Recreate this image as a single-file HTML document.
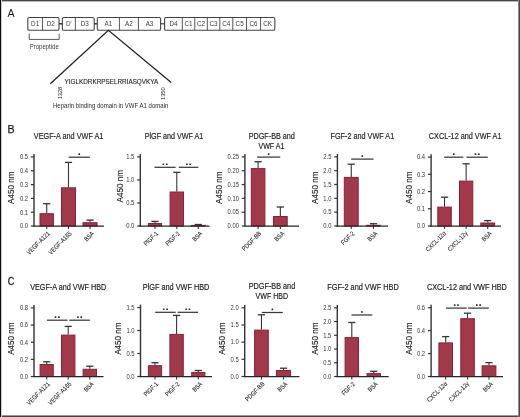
<!DOCTYPE html>
<html><head><meta charset="utf-8"><style>
html,body{margin:0;padding:0;background:#fff;}
body{width:520px;height:417px;overflow:hidden;}
svg{display:block;font-family:"Liberation Sans", sans-serif;will-change:transform;}
</style></head><body>
<svg width="520" height="417" viewBox="0 0 520 417">
<rect width="520" height="417" fill="#fff"/>
<text x="7.6" y="16.8" font-size="10.6" text-anchor="start" fill="#1a1a1a" >A</text>
<rect x="27.8" y="17.5" width="31.20" height="12.80" rx="1.3" fill="#fff" stroke="#444" stroke-width="1.1"/>
<line x1="42.5" y1="17.5" x2="42.5" y2="30.3" stroke="#444" stroke-width="0.9"/>
<text x="35.15" y="25.9" font-size="6.3" text-anchor="middle" fill="#3a3a3a" >D1</text>
<text x="50.75" y="25.9" font-size="6.3" text-anchor="middle" fill="#3a3a3a" >D2</text>
<rect x="62.4" y="17.5" width="31.80" height="12.80" rx="1.3" fill="#fff" stroke="#444" stroke-width="1.1"/>
<line x1="75.4" y1="17.5" x2="75.4" y2="30.3" stroke="#444" stroke-width="0.9"/>
<text x="68.90" y="25.9" font-size="6.3" text-anchor="middle" fill="#3a3a3a" >D'</text>
<text x="84.80" y="25.9" font-size="6.3" text-anchor="middle" fill="#3a3a3a" >D3</text>
<rect x="97.3" y="17.5" width="63.30" height="12.80" rx="1.3" fill="#fff" stroke="#444" stroke-width="1.1"/>
<line x1="119.4" y1="17.5" x2="119.4" y2="30.3" stroke="#444" stroke-width="0.9"/>
<line x1="138.4" y1="17.5" x2="138.4" y2="30.3" stroke="#444" stroke-width="0.9"/>
<text x="108.35" y="25.9" font-size="6.3" text-anchor="middle" fill="#3a3a3a" >A1</text>
<text x="128.90" y="25.9" font-size="6.3" text-anchor="middle" fill="#3a3a3a" >A2</text>
<text x="149.50" y="25.9" font-size="6.3" text-anchor="middle" fill="#3a3a3a" >A3</text>
<rect x="164.6" y="17.5" width="110.20" height="12.80" rx="1.3" fill="#fff" stroke="#444" stroke-width="1.1"/>
<line x1="182.3" y1="17.5" x2="182.3" y2="30.3" stroke="#444" stroke-width="0.9"/>
<line x1="194.8" y1="17.5" x2="194.8" y2="30.3" stroke="#444" stroke-width="0.9"/>
<line x1="207.3" y1="17.5" x2="207.3" y2="30.3" stroke="#444" stroke-width="0.9"/>
<line x1="219.8" y1="17.5" x2="219.8" y2="30.3" stroke="#444" stroke-width="0.9"/>
<line x1="232.8" y1="17.5" x2="232.8" y2="30.3" stroke="#444" stroke-width="0.9"/>
<line x1="246.5" y1="17.5" x2="246.5" y2="30.3" stroke="#444" stroke-width="0.9"/>
<line x1="260.6" y1="17.5" x2="260.6" y2="30.3" stroke="#444" stroke-width="0.9"/>
<text x="173.45" y="25.9" font-size="6.3" text-anchor="middle" fill="#3a3a3a" >D4</text>
<text x="188.55" y="25.9" font-size="6.3" text-anchor="middle" fill="#3a3a3a" >C1</text>
<text x="201.05" y="25.9" font-size="6.3" text-anchor="middle" fill="#3a3a3a" >C2</text>
<text x="213.55" y="25.9" font-size="6.3" text-anchor="middle" fill="#3a3a3a" >C3</text>
<text x="226.30" y="25.9" font-size="6.3" text-anchor="middle" fill="#3a3a3a" >C4</text>
<text x="239.65" y="25.9" font-size="6.3" text-anchor="middle" fill="#3a3a3a" >C5</text>
<text x="253.55" y="25.9" font-size="6.3" text-anchor="middle" fill="#3a3a3a" >C6</text>
<text x="267.70" y="25.9" font-size="6.3" text-anchor="middle" fill="#3a3a3a" >CK</text>
<line x1="59.0" y1="23.8" x2="62.4" y2="23.8" stroke="#333" stroke-width="1.5"/>
<line x1="94.2" y1="23.8" x2="97.3" y2="23.8" stroke="#333" stroke-width="1.4"/>
<line x1="160.6" y1="23.8" x2="164.6" y2="23.8" stroke="#333" stroke-width="1.1"/>
<path d="M29.2 33.5 V39.4 H59.2 V33.5" fill="none" stroke="#444" stroke-width="0.9"/>
<text x="44.3" y="49.1" font-size="6.4" text-anchor="middle" fill="#3a3a3a" textLength="29" lengthAdjust="spacingAndGlyphs" >Propeptide</text>
<path d="M50.3 83.7 L108.4 30.3 L171.2 82.5" fill="none" stroke="#1e1e1e" stroke-width="1.2"/>
<text x="64.5" y="83.8" font-size="7" text-anchor="start" fill="#1e1e1e" textLength="93.8" lengthAdjust="spacingAndGlyphs" stroke="#1e1e1e" stroke-width="0.12">YIGLKDRKRPSELRRIASQVKYA</text>
<text x="0" y="0" font-size="6" fill="#151515" transform="translate(61.7 99.3) rotate(-90)" textLength="12.5" lengthAdjust="spacingAndGlyphs">1328</text>
<text x="0" y="0" font-size="6" fill="#151515" transform="translate(164.7 99.9) rotate(-90)" textLength="12.5" lengthAdjust="spacingAndGlyphs">1350</text>
<text x="53" y="107.6" font-size="6.4" text-anchor="start" fill="#2a2a2a" textLength="115.4" lengthAdjust="spacingAndGlyphs" >Heparin binding domain in VWF A1 domain</text>
<text x="7.6" y="133.2" font-size="10.6" text-anchor="start" fill="#1a1a1a" stroke="#1a1a1a" stroke-width="0.25">B</text>
<text x="0" y="0" font-size="10.6" fill="#1a1a1a" stroke="#1a1a1a" stroke-width="0.25" transform="translate(7.7 284.7) scale(0.86 1)">C</text>
<line x1="34.0" y1="154.1" x2="34.0" y2="226.6" stroke="#383838" stroke-width="1.45"/>
<line x1="30.8" y1="226.0" x2="34.0" y2="226.0" stroke="#333" stroke-width="1.2"/>
<text x="28.00" y="228.30" font-size="6.4" text-anchor="end" fill="#333" textLength="8.10" lengthAdjust="spacingAndGlyphs" >0.0</text>
<line x1="30.8" y1="212.2" x2="34.0" y2="212.2" stroke="#333" stroke-width="1.2"/>
<text x="28.00" y="214.50" font-size="6.4" text-anchor="end" fill="#333" textLength="8.10" lengthAdjust="spacingAndGlyphs" >0.1</text>
<line x1="30.8" y1="198.4" x2="34.0" y2="198.4" stroke="#333" stroke-width="1.2"/>
<text x="28.00" y="200.70" font-size="6.4" text-anchor="end" fill="#333" textLength="8.10" lengthAdjust="spacingAndGlyphs" >0.2</text>
<line x1="30.8" y1="184.6" x2="34.0" y2="184.6" stroke="#333" stroke-width="1.2"/>
<text x="28.00" y="186.90" font-size="6.4" text-anchor="end" fill="#333" textLength="8.10" lengthAdjust="spacingAndGlyphs" >0.3</text>
<line x1="30.8" y1="170.8" x2="34.0" y2="170.8" stroke="#333" stroke-width="1.2"/>
<text x="28.00" y="173.10" font-size="6.4" text-anchor="end" fill="#333" textLength="8.10" lengthAdjust="spacingAndGlyphs" >0.4</text>
<line x1="30.8" y1="157.0" x2="34.0" y2="157.0" stroke="#333" stroke-width="1.2"/>
<text x="28.00" y="159.30" font-size="6.4" text-anchor="end" fill="#333" textLength="8.10" lengthAdjust="spacingAndGlyphs" >0.5</text>
<text x="0" y="0" font-size="8.4" fill="#222" stroke="#222" stroke-width="0.12" text-anchor="middle" transform="translate(14.3 187.80) rotate(-90)" textLength="32.3" lengthAdjust="spacingAndGlyphs">A450 nm</text>
<rect x="40.00" y="213.70" width="13.40" height="12.30" fill="#a1394a" stroke="#8c2136" stroke-width="1"/>
<line x1="46.7" y1="203.7" x2="46.7" y2="213.2" stroke="#353535" stroke-width="1.1"/>
<line x1="43.1" y1="203.7" x2="50.300000000000004" y2="203.7" stroke="#333" stroke-width="1.3"/>
<line x1="46.7" y1="226.0" x2="46.7" y2="229.0" stroke="#333" stroke-width="1.1"/>
<text x="0" y="0" font-size="6.5" fill="#1a1a1a" stroke="#1a1a1a" stroke-width="0.08" text-anchor="end" transform="translate(50.30 234.00) rotate(-45) scale(0.85 1)">VEGF-A121</text>
<rect x="61.50" y="187.80" width="14.00" height="38.20" fill="#a1394a" stroke="#8c2136" stroke-width="1"/>
<line x1="68.5" y1="162.4" x2="68.5" y2="187.3" stroke="#353535" stroke-width="1.1"/>
<line x1="64.9" y1="162.4" x2="72.1" y2="162.4" stroke="#333" stroke-width="1.3"/>
<line x1="68.5" y1="226.0" x2="68.5" y2="229.0" stroke="#333" stroke-width="1.1"/>
<text x="0" y="0" font-size="6.5" fill="#1a1a1a" stroke="#1a1a1a" stroke-width="0.08" text-anchor="end" transform="translate(72.10 234.00) rotate(-45) scale(0.85 1)">VEGF-A165</text>
<rect x="83.00" y="222.70" width="14.10" height="3.30" fill="#a1394a" stroke="#8c2136" stroke-width="1"/>
<line x1="90.05" y1="220.1" x2="90.05" y2="222.2" stroke="#353535" stroke-width="1.1"/>
<line x1="86.45" y1="220.1" x2="93.64999999999999" y2="220.1" stroke="#333" stroke-width="1.3"/>
<line x1="90.05" y1="226.0" x2="90.05" y2="229.0" stroke="#333" stroke-width="1.1"/>
<text x="0" y="0" font-size="6.5" fill="#1a1a1a" stroke="#1a1a1a" stroke-width="0.08" text-anchor="end" transform="translate(94.45 234.00) rotate(-45) scale(0.85 1)">BSA</text>
<line x1="33.3" y1="226.0" x2="104" y2="226.0" stroke="#262626" stroke-width="1.25"/>
<line x1="68.6" y1="157.2" x2="89.9" y2="157.2" stroke="#383838" stroke-width="1.25"/>
<rect x="78.40" y="153.30" width="1.7" height="1.7" rx="0.35" fill="#2a2a2a"/>
<text x="33.8" y="139.3" font-size="8.2" text-anchor="start" fill="#1e1e1e" textLength="69.6" lengthAdjust="spacingAndGlyphs" stroke="#1e1e1e" stroke-width="0.18">VEGF-A and VWF A1</text>
<line x1="140.3" y1="154.0" x2="140.3" y2="226.6" stroke="#383838" stroke-width="1.45"/>
<line x1="137.10000000000002" y1="226.0" x2="140.3" y2="226.0" stroke="#333" stroke-width="1.2"/>
<text x="134.30" y="228.30" font-size="6.4" text-anchor="end" fill="#333" textLength="8.10" lengthAdjust="spacingAndGlyphs" >0.0</text>
<line x1="137.10000000000002" y1="202.96666666666667" x2="140.3" y2="202.96666666666667" stroke="#333" stroke-width="1.2"/>
<text x="134.30" y="205.27" font-size="6.4" text-anchor="end" fill="#333" textLength="8.10" lengthAdjust="spacingAndGlyphs" >0.5</text>
<line x1="137.10000000000002" y1="179.93333333333334" x2="140.3" y2="179.93333333333334" stroke="#333" stroke-width="1.2"/>
<text x="134.30" y="182.23" font-size="6.4" text-anchor="end" fill="#333" textLength="8.10" lengthAdjust="spacingAndGlyphs" >1.0</text>
<line x1="137.10000000000002" y1="156.9" x2="140.3" y2="156.9" stroke="#333" stroke-width="1.2"/>
<text x="134.30" y="159.20" font-size="6.4" text-anchor="end" fill="#333" textLength="8.10" lengthAdjust="spacingAndGlyphs" >1.5</text>
<text x="0" y="0" font-size="8.4" fill="#222" stroke="#222" stroke-width="0.12" text-anchor="middle" transform="translate(122.9 186.30) rotate(-90)" textLength="32.3" lengthAdjust="spacingAndGlyphs">A450 nm</text>
<rect x="148.40" y="223.50" width="13.20" height="2.50" fill="#a1394a" stroke="#8c2136" stroke-width="1"/>
<line x1="155.0" y1="221.4" x2="155.0" y2="223" stroke="#353535" stroke-width="1.1"/>
<line x1="151.4" y1="221.4" x2="158.6" y2="221.4" stroke="#333" stroke-width="1.3"/>
<line x1="155.0" y1="226.0" x2="155.0" y2="229.0" stroke="#333" stroke-width="1.1"/>
<text x="0" y="0" font-size="6.5" fill="#1a1a1a" stroke="#1a1a1a" stroke-width="0.08" text-anchor="end" transform="translate(158.60 234.00) rotate(-45) scale(0.85 1)">PlGF-1</text>
<rect x="170.10" y="192.00" width="13.40" height="34.00" fill="#a1394a" stroke="#8c2136" stroke-width="1"/>
<line x1="176.8" y1="172.3" x2="176.8" y2="191.5" stroke="#353535" stroke-width="1.1"/>
<line x1="173.20000000000002" y1="172.3" x2="180.4" y2="172.3" stroke="#333" stroke-width="1.3"/>
<line x1="176.8" y1="226.0" x2="176.8" y2="229.0" stroke="#333" stroke-width="1.1"/>
<text x="0" y="0" font-size="6.5" fill="#1a1a1a" stroke="#1a1a1a" stroke-width="0.08" text-anchor="end" transform="translate(180.40 234.00) rotate(-45) scale(0.85 1)">PlGF-2</text>
<rect x="191.40" y="225.40" width="13.80" height="0.60" fill="#a1394a" stroke="#8c2136" stroke-width="1"/>
<line x1="198.3" y1="224.5" x2="198.3" y2="224.9" stroke="#353535" stroke-width="1.1"/>
<line x1="194.70000000000002" y1="224.5" x2="201.9" y2="224.5" stroke="#333" stroke-width="1.3"/>
<line x1="198.3" y1="226.0" x2="198.3" y2="229.0" stroke="#333" stroke-width="1.1"/>
<text x="0" y="0" font-size="6.5" fill="#1a1a1a" stroke="#1a1a1a" stroke-width="0.08" text-anchor="end" transform="translate(202.70 234.00) rotate(-45) scale(0.85 1)">BSA</text>
<line x1="139.60000000000002" y1="226.0" x2="209.6" y2="226.0" stroke="#262626" stroke-width="1.25"/>
<line x1="154.5" y1="167.3" x2="175.6" y2="167.3" stroke="#383838" stroke-width="1.25"/>
<rect x="162.55" y="163.40" width="1.7" height="1.7" rx="0.35" fill="#2a2a2a"/>
<rect x="165.85" y="163.40" width="1.7" height="1.7" rx="0.35" fill="#2a2a2a"/>
<line x1="178.8" y1="167.3" x2="198.3" y2="167.3" stroke="#383838" stroke-width="1.25"/>
<rect x="186.05" y="163.40" width="1.7" height="1.7" rx="0.35" fill="#2a2a2a"/>
<rect x="189.35" y="163.40" width="1.7" height="1.7" rx="0.35" fill="#2a2a2a"/>
<text x="144.7" y="139.1" font-size="8.2" text-anchor="start" fill="#1e1e1e" textLength="58.5" lengthAdjust="spacingAndGlyphs" stroke="#1e1e1e" stroke-width="0.18">PlGF and VWF A1</text>
<line x1="244.9" y1="154.0" x2="244.9" y2="226.6" stroke="#383838" stroke-width="1.45"/>
<line x1="241.70000000000002" y1="226.0" x2="244.9" y2="226.0" stroke="#333" stroke-width="1.2"/>
<text x="238.90" y="228.30" font-size="6.4" text-anchor="end" fill="#333" textLength="11.33" lengthAdjust="spacingAndGlyphs" >0.00</text>
<line x1="241.70000000000002" y1="212.18" x2="244.9" y2="212.18" stroke="#333" stroke-width="1.2"/>
<text x="238.90" y="214.48" font-size="6.4" text-anchor="end" fill="#333" textLength="11.33" lengthAdjust="spacingAndGlyphs" >0.05</text>
<line x1="241.70000000000002" y1="198.36" x2="244.9" y2="198.36" stroke="#333" stroke-width="1.2"/>
<text x="238.90" y="200.66" font-size="6.4" text-anchor="end" fill="#333" textLength="11.33" lengthAdjust="spacingAndGlyphs" >0.10</text>
<line x1="241.70000000000002" y1="184.54000000000002" x2="244.9" y2="184.54000000000002" stroke="#333" stroke-width="1.2"/>
<text x="238.90" y="186.84" font-size="6.4" text-anchor="end" fill="#333" textLength="11.33" lengthAdjust="spacingAndGlyphs" >0.15</text>
<line x1="241.70000000000002" y1="170.72" x2="244.9" y2="170.72" stroke="#333" stroke-width="1.2"/>
<text x="238.90" y="173.02" font-size="6.4" text-anchor="end" fill="#333" textLength="11.33" lengthAdjust="spacingAndGlyphs" >0.20</text>
<line x1="241.70000000000002" y1="156.9" x2="244.9" y2="156.9" stroke="#333" stroke-width="1.2"/>
<text x="238.90" y="159.20" font-size="6.4" text-anchor="end" fill="#333" textLength="11.33" lengthAdjust="spacingAndGlyphs" >0.25</text>
<text x="0" y="0" font-size="8.4" fill="#222" stroke="#222" stroke-width="0.12" text-anchor="middle" transform="translate(221.5 187.80) rotate(-90)" textLength="32.3" lengthAdjust="spacingAndGlyphs">A450 nm</text>
<rect x="251.30" y="168.60" width="13.60" height="57.40" fill="#a1394a" stroke="#8c2136" stroke-width="1"/>
<line x1="258.1" y1="161.7" x2="258.1" y2="168.1" stroke="#353535" stroke-width="1.1"/>
<line x1="254.50000000000003" y1="161.7" x2="261.70000000000005" y2="161.7" stroke="#333" stroke-width="1.3"/>
<line x1="258.1" y1="226.0" x2="258.1" y2="229.0" stroke="#333" stroke-width="1.1"/>
<text x="0" y="0" font-size="6.5" fill="#1a1a1a" stroke="#1a1a1a" stroke-width="0.08" text-anchor="end" transform="translate(261.70 234.00) rotate(-45) scale(0.85 1)">PDGF-BB</text>
<rect x="273.50" y="216.50" width="13.70" height="9.50" fill="#a1394a" stroke="#8c2136" stroke-width="1"/>
<line x1="280.35" y1="207" x2="280.35" y2="216" stroke="#353535" stroke-width="1.1"/>
<line x1="276.75" y1="207" x2="283.95000000000005" y2="207" stroke="#333" stroke-width="1.3"/>
<line x1="280.35" y1="226.0" x2="280.35" y2="229.0" stroke="#333" stroke-width="1.1"/>
<text x="0" y="0" font-size="6.5" fill="#1a1a1a" stroke="#1a1a1a" stroke-width="0.08" text-anchor="end" transform="translate(284.75 234.00) rotate(-45) scale(0.85 1)">BSA</text>
<line x1="244.20000000000002" y1="226.0" x2="299" y2="226.0" stroke="#262626" stroke-width="1.25"/>
<line x1="257.1" y1="157.1" x2="280.2" y2="157.1" stroke="#383838" stroke-width="1.25"/>
<rect x="267.80" y="153.20" width="1.7" height="1.7" rx="0.35" fill="#2a2a2a"/>
<text x="248.7" y="139" font-size="8.2" text-anchor="start" fill="#1e1e1e" textLength="46.1" lengthAdjust="spacingAndGlyphs" stroke="#1e1e1e" stroke-width="0.18">PDGF-BB and</text>
<text x="258.5" y="149" font-size="8.2" text-anchor="start" fill="#1e1e1e" textLength="25.9" lengthAdjust="spacingAndGlyphs" stroke="#1e1e1e" stroke-width="0.18">VWF A1</text>
<line x1="337.4" y1="153.9" x2="337.4" y2="226.6" stroke="#383838" stroke-width="1.45"/>
<line x1="334.2" y1="226.0" x2="337.4" y2="226.0" stroke="#333" stroke-width="1.2"/>
<text x="331.40" y="228.30" font-size="6.4" text-anchor="end" fill="#333" textLength="8.10" lengthAdjust="spacingAndGlyphs" >0.0</text>
<line x1="334.2" y1="212.16" x2="337.4" y2="212.16" stroke="#333" stroke-width="1.2"/>
<text x="331.40" y="214.46" font-size="6.4" text-anchor="end" fill="#333" textLength="8.10" lengthAdjust="spacingAndGlyphs" >0.5</text>
<line x1="334.2" y1="198.32" x2="337.4" y2="198.32" stroke="#333" stroke-width="1.2"/>
<text x="331.40" y="200.62" font-size="6.4" text-anchor="end" fill="#333" textLength="8.10" lengthAdjust="spacingAndGlyphs" >1.0</text>
<line x1="334.2" y1="184.48000000000002" x2="337.4" y2="184.48000000000002" stroke="#333" stroke-width="1.2"/>
<text x="331.40" y="186.78" font-size="6.4" text-anchor="end" fill="#333" textLength="8.10" lengthAdjust="spacingAndGlyphs" >1.5</text>
<line x1="334.2" y1="170.64000000000001" x2="337.4" y2="170.64000000000001" stroke="#333" stroke-width="1.2"/>
<text x="331.40" y="172.94" font-size="6.4" text-anchor="end" fill="#333" textLength="8.10" lengthAdjust="spacingAndGlyphs" >2.0</text>
<line x1="334.2" y1="156.8" x2="337.4" y2="156.8" stroke="#333" stroke-width="1.2"/>
<text x="331.40" y="159.10" font-size="6.4" text-anchor="end" fill="#333" textLength="8.10" lengthAdjust="spacingAndGlyphs" >2.5</text>
<text x="0" y="0" font-size="8.4" fill="#222" stroke="#222" stroke-width="0.12" text-anchor="middle" transform="translate(318.2 187.80) rotate(-90)" textLength="32.3" lengthAdjust="spacingAndGlyphs">A450 nm</text>
<rect x="344.30" y="177.40" width="13.90" height="48.60" fill="#a1394a" stroke="#8c2136" stroke-width="1"/>
<line x1="351.25" y1="164.2" x2="351.25" y2="176.9" stroke="#353535" stroke-width="1.1"/>
<line x1="347.65" y1="164.2" x2="354.85" y2="164.2" stroke="#333" stroke-width="1.3"/>
<line x1="351.25" y1="226.0" x2="351.25" y2="229.0" stroke="#333" stroke-width="1.1"/>
<text x="0" y="0" font-size="6.5" fill="#1a1a1a" stroke="#1a1a1a" stroke-width="0.08" text-anchor="end" transform="translate(354.85 234.00) rotate(-45) scale(0.85 1)">FGF-2</text>
<rect x="366.70" y="225.30" width="13.60" height="0.70" fill="#a1394a" stroke="#8c2136" stroke-width="1"/>
<line x1="373.5" y1="223.7" x2="373.5" y2="224.8" stroke="#353535" stroke-width="1.1"/>
<line x1="369.9" y1="223.7" x2="377.1" y2="223.7" stroke="#333" stroke-width="1.3"/>
<line x1="373.5" y1="226.0" x2="373.5" y2="229.0" stroke="#333" stroke-width="1.1"/>
<text x="0" y="0" font-size="6.5" fill="#1a1a1a" stroke="#1a1a1a" stroke-width="0.08" text-anchor="end" transform="translate(377.90 234.00) rotate(-45) scale(0.85 1)">BSA</text>
<line x1="336.7" y1="226.0" x2="388" y2="226.0" stroke="#262626" stroke-width="1.25"/>
<line x1="351.1" y1="159.1" x2="373.5" y2="159.1" stroke="#383838" stroke-width="1.25"/>
<rect x="361.45" y="155.20" width="1.7" height="1.7" rx="0.35" fill="#2a2a2a"/>
<text x="330.5" y="139.1" font-size="8.2" text-anchor="start" fill="#1e1e1e" textLength="63.7" lengthAdjust="spacingAndGlyphs" stroke="#1e1e1e" stroke-width="0.18">FGF-2 and VWF A1</text>
<line x1="431.1" y1="154.2" x2="431.1" y2="226.6" stroke="#383838" stroke-width="1.45"/>
<line x1="427.90000000000003" y1="226.0" x2="431.1" y2="226.0" stroke="#333" stroke-width="1.2"/>
<text x="425.10" y="228.30" font-size="6.4" text-anchor="end" fill="#333" textLength="8.10" lengthAdjust="spacingAndGlyphs" >0.0</text>
<line x1="427.90000000000003" y1="208.775" x2="431.1" y2="208.775" stroke="#333" stroke-width="1.2"/>
<text x="425.10" y="211.08" font-size="6.4" text-anchor="end" fill="#333" textLength="8.10" lengthAdjust="spacingAndGlyphs" >0.1</text>
<line x1="427.90000000000003" y1="191.55" x2="431.1" y2="191.55" stroke="#333" stroke-width="1.2"/>
<text x="425.10" y="193.85" font-size="6.4" text-anchor="end" fill="#333" textLength="8.10" lengthAdjust="spacingAndGlyphs" >0.2</text>
<line x1="427.90000000000003" y1="174.325" x2="431.1" y2="174.325" stroke="#333" stroke-width="1.2"/>
<text x="425.10" y="176.62" font-size="6.4" text-anchor="end" fill="#333" textLength="8.10" lengthAdjust="spacingAndGlyphs" >0.3</text>
<line x1="427.90000000000003" y1="157.1" x2="431.1" y2="157.1" stroke="#333" stroke-width="1.2"/>
<text x="425.10" y="159.40" font-size="6.4" text-anchor="end" fill="#333" textLength="8.10" lengthAdjust="spacingAndGlyphs" >0.4</text>
<text x="0" y="0" font-size="8.4" fill="#222" stroke="#222" stroke-width="0.12" text-anchor="middle" transform="translate(411.6 187.80) rotate(-90)" textLength="32.3" lengthAdjust="spacingAndGlyphs">A450 nm</text>
<rect x="437.80" y="207.10" width="13.50" height="18.90" fill="#a1394a" stroke="#8c2136" stroke-width="1"/>
<line x1="444.55" y1="197.2" x2="444.55" y2="206.6" stroke="#353535" stroke-width="1.1"/>
<line x1="440.95" y1="197.2" x2="448.15000000000003" y2="197.2" stroke="#333" stroke-width="1.3"/>
<line x1="444.55" y1="226.0" x2="444.55" y2="229.0" stroke="#333" stroke-width="1.1"/>
<text x="0" y="0" font-size="6.5" fill="#1a1a1a" stroke="#1a1a1a" stroke-width="0.08" text-anchor="end" transform="translate(446.55 233.70) rotate(-45) scale(0.85 1)">CXCL-12α</text>
<rect x="459.50" y="181.10" width="13.30" height="44.90" fill="#a1394a" stroke="#8c2136" stroke-width="1"/>
<line x1="466.15" y1="163.8" x2="466.15" y2="180.6" stroke="#353535" stroke-width="1.1"/>
<line x1="462.54999999999995" y1="163.8" x2="469.75" y2="163.8" stroke="#333" stroke-width="1.3"/>
<line x1="466.15" y1="226.0" x2="466.15" y2="229.0" stroke="#333" stroke-width="1.1"/>
<text x="0" y="0" font-size="6.5" fill="#1a1a1a" stroke="#1a1a1a" stroke-width="0.08" text-anchor="end" transform="translate(468.15 233.70) rotate(-45) scale(0.85 1)">CXCL-12γ</text>
<rect x="480.80" y="223.00" width="13.80" height="3.00" fill="#a1394a" stroke="#8c2136" stroke-width="1"/>
<line x1="487.70000000000005" y1="220.6" x2="487.70000000000005" y2="222.5" stroke="#353535" stroke-width="1.1"/>
<line x1="484.1" y1="220.6" x2="491.30000000000007" y2="220.6" stroke="#333" stroke-width="1.3"/>
<line x1="487.70000000000005" y1="226.0" x2="487.70000000000005" y2="229.0" stroke="#333" stroke-width="1.1"/>
<text x="0" y="0" font-size="6.5" fill="#1a1a1a" stroke="#1a1a1a" stroke-width="0.08" text-anchor="end" transform="translate(492.10 234.00) rotate(-45) scale(0.85 1)">BSA</text>
<line x1="430.40000000000003" y1="226.0" x2="501" y2="226.0" stroke="#262626" stroke-width="1.25"/>
<line x1="444.2" y1="157.2" x2="463.3" y2="157.2" stroke="#383838" stroke-width="1.25"/>
<rect x="452.90" y="153.30" width="1.7" height="1.7" rx="0.35" fill="#2a2a2a"/>
<line x1="466.4" y1="157.2" x2="487.8" y2="157.2" stroke="#383838" stroke-width="1.25"/>
<rect x="474.60" y="153.30" width="1.7" height="1.7" rx="0.35" fill="#2a2a2a"/>
<rect x="477.90" y="153.30" width="1.7" height="1.7" rx="0.35" fill="#2a2a2a"/>
<text x="428.8" y="138.8" font-size="8.2" text-anchor="start" fill="#1e1e1e" textLength="72.7" lengthAdjust="spacingAndGlyphs" stroke="#1e1e1e" stroke-width="0.18">CXCL-12 and VWF A1</text>
<line x1="34.0" y1="305.0" x2="34.0" y2="377.1" stroke="#383838" stroke-width="1.45"/>
<line x1="30.8" y1="376.5" x2="34.0" y2="376.5" stroke="#333" stroke-width="1.2"/>
<text x="28.00" y="378.80" font-size="6.4" text-anchor="end" fill="#333" textLength="8.10" lengthAdjust="spacingAndGlyphs" >0.0</text>
<line x1="30.8" y1="359.35" x2="34.0" y2="359.35" stroke="#333" stroke-width="1.2"/>
<text x="28.00" y="361.65" font-size="6.4" text-anchor="end" fill="#333" textLength="8.10" lengthAdjust="spacingAndGlyphs" >0.2</text>
<line x1="30.8" y1="342.2" x2="34.0" y2="342.2" stroke="#333" stroke-width="1.2"/>
<text x="28.00" y="344.50" font-size="6.4" text-anchor="end" fill="#333" textLength="8.10" lengthAdjust="spacingAndGlyphs" >0.4</text>
<line x1="30.8" y1="325.05" x2="34.0" y2="325.05" stroke="#333" stroke-width="1.2"/>
<text x="28.00" y="327.35" font-size="6.4" text-anchor="end" fill="#333" textLength="8.10" lengthAdjust="spacingAndGlyphs" >0.6</text>
<line x1="30.8" y1="307.9" x2="34.0" y2="307.9" stroke="#333" stroke-width="1.2"/>
<text x="28.00" y="310.20" font-size="6.4" text-anchor="end" fill="#333" textLength="8.10" lengthAdjust="spacingAndGlyphs" >0.8</text>
<text x="0" y="0" font-size="8.4" fill="#222" stroke="#222" stroke-width="0.12" text-anchor="middle" transform="translate(14.3 338.70) rotate(-90)" textLength="32.3" lengthAdjust="spacingAndGlyphs">A450 nm</text>
<rect x="40.10" y="364.50" width="13.20" height="12.00" fill="#a1394a" stroke="#8c2136" stroke-width="1"/>
<line x1="46.7" y1="361.8" x2="46.7" y2="364" stroke="#353535" stroke-width="1.1"/>
<line x1="43.1" y1="361.8" x2="50.300000000000004" y2="361.8" stroke="#333" stroke-width="1.3"/>
<line x1="46.7" y1="376.5" x2="46.7" y2="379.5" stroke="#333" stroke-width="1.1"/>
<text x="0" y="0" font-size="6.5" fill="#1a1a1a" stroke="#1a1a1a" stroke-width="0.08" text-anchor="end" transform="translate(50.30 384.50) rotate(-45) scale(0.85 1)">VEGF-A121</text>
<rect x="61.50" y="335.10" width="13.40" height="41.40" fill="#a1394a" stroke="#8c2136" stroke-width="1"/>
<line x1="68.2" y1="326.4" x2="68.2" y2="334.6" stroke="#353535" stroke-width="1.1"/>
<line x1="64.60000000000001" y1="326.4" x2="71.8" y2="326.4" stroke="#333" stroke-width="1.3"/>
<line x1="68.2" y1="376.5" x2="68.2" y2="379.5" stroke="#333" stroke-width="1.1"/>
<text x="0" y="0" font-size="6.5" fill="#1a1a1a" stroke="#1a1a1a" stroke-width="0.08" text-anchor="end" transform="translate(71.80 384.50) rotate(-45) scale(0.85 1)">VEGF-A165</text>
<rect x="83.10" y="369.30" width="13.40" height="7.20" fill="#a1394a" stroke="#8c2136" stroke-width="1"/>
<line x1="89.8" y1="366.2" x2="89.8" y2="368.8" stroke="#353535" stroke-width="1.1"/>
<line x1="86.2" y1="366.2" x2="93.39999999999999" y2="366.2" stroke="#333" stroke-width="1.3"/>
<line x1="89.8" y1="376.5" x2="89.8" y2="379.5" stroke="#333" stroke-width="1.1"/>
<text x="0" y="0" font-size="6.5" fill="#1a1a1a" stroke="#1a1a1a" stroke-width="0.08" text-anchor="end" transform="translate(94.20 384.50) rotate(-45) scale(0.85 1)">BSA</text>
<line x1="33.3" y1="376.5" x2="103.5" y2="376.5" stroke="#262626" stroke-width="1.25"/>
<line x1="46.9" y1="320.2" x2="67.5" y2="320.2" stroke="#383838" stroke-width="1.25"/>
<rect x="54.70" y="316.30" width="1.7" height="1.7" rx="0.35" fill="#2a2a2a"/>
<rect x="58.00" y="316.30" width="1.7" height="1.7" rx="0.35" fill="#2a2a2a"/>
<line x1="69.2" y1="320.2" x2="89.9" y2="320.2" stroke="#383838" stroke-width="1.25"/>
<rect x="77.05" y="316.30" width="1.7" height="1.7" rx="0.35" fill="#2a2a2a"/>
<rect x="80.35" y="316.30" width="1.7" height="1.7" rx="0.35" fill="#2a2a2a"/>
<text x="30.2" y="289.5" font-size="8.2" text-anchor="start" fill="#1e1e1e" textLength="76.1" lengthAdjust="spacingAndGlyphs" stroke="#1e1e1e" stroke-width="0.18">VEGF-A and VWF HBD</text>
<line x1="140.5" y1="304.6" x2="140.5" y2="377.1" stroke="#383838" stroke-width="1.45"/>
<line x1="137.3" y1="376.5" x2="140.5" y2="376.5" stroke="#333" stroke-width="1.2"/>
<text x="134.50" y="378.80" font-size="6.4" text-anchor="end" fill="#333" textLength="8.10" lengthAdjust="spacingAndGlyphs" >0.0</text>
<line x1="137.3" y1="353.5" x2="140.5" y2="353.5" stroke="#333" stroke-width="1.2"/>
<text x="134.50" y="355.80" font-size="6.4" text-anchor="end" fill="#333" textLength="8.10" lengthAdjust="spacingAndGlyphs" >0.5</text>
<line x1="137.3" y1="330.5" x2="140.5" y2="330.5" stroke="#333" stroke-width="1.2"/>
<text x="134.50" y="332.80" font-size="6.4" text-anchor="end" fill="#333" textLength="8.10" lengthAdjust="spacingAndGlyphs" >1.0</text>
<line x1="137.3" y1="307.5" x2="140.5" y2="307.5" stroke="#333" stroke-width="1.2"/>
<text x="134.50" y="309.80" font-size="6.4" text-anchor="end" fill="#333" textLength="8.10" lengthAdjust="spacingAndGlyphs" >1.5</text>
<text x="0" y="0" font-size="8.4" fill="#222" stroke="#222" stroke-width="0.12" text-anchor="middle" transform="translate(120.6 338.70) rotate(-90)" textLength="32.3" lengthAdjust="spacingAndGlyphs">A450 nm</text>
<rect x="148.40" y="365.70" width="13.20" height="10.80" fill="#a1394a" stroke="#8c2136" stroke-width="1"/>
<line x1="155.0" y1="362.7" x2="155.0" y2="365.2" stroke="#353535" stroke-width="1.1"/>
<line x1="151.4" y1="362.7" x2="158.6" y2="362.7" stroke="#333" stroke-width="1.3"/>
<line x1="155.0" y1="376.5" x2="155.0" y2="379.5" stroke="#333" stroke-width="1.1"/>
<text x="0" y="0" font-size="6.5" fill="#1a1a1a" stroke="#1a1a1a" stroke-width="0.08" text-anchor="end" transform="translate(158.60 384.50) rotate(-45) scale(0.85 1)">PlGF-1</text>
<rect x="169.90" y="334.40" width="13.40" height="42.10" fill="#a1394a" stroke="#8c2136" stroke-width="1"/>
<line x1="176.60000000000002" y1="315.4" x2="176.60000000000002" y2="333.9" stroke="#353535" stroke-width="1.1"/>
<line x1="173.00000000000003" y1="315.4" x2="180.20000000000002" y2="315.4" stroke="#333" stroke-width="1.3"/>
<line x1="176.60000000000002" y1="376.5" x2="176.60000000000002" y2="379.5" stroke="#333" stroke-width="1.1"/>
<text x="0" y="0" font-size="6.5" fill="#1a1a1a" stroke="#1a1a1a" stroke-width="0.08" text-anchor="end" transform="translate(180.20 384.50) rotate(-45) scale(0.85 1)">PlGF-2</text>
<rect x="191.70" y="372.50" width="13.20" height="4.00" fill="#a1394a" stroke="#8c2136" stroke-width="1"/>
<line x1="198.3" y1="370.5" x2="198.3" y2="372" stroke="#353535" stroke-width="1.1"/>
<line x1="194.70000000000002" y1="370.5" x2="201.9" y2="370.5" stroke="#333" stroke-width="1.3"/>
<line x1="198.3" y1="376.5" x2="198.3" y2="379.5" stroke="#333" stroke-width="1.1"/>
<text x="0" y="0" font-size="6.5" fill="#1a1a1a" stroke="#1a1a1a" stroke-width="0.08" text-anchor="end" transform="translate(202.70 384.50) rotate(-45) scale(0.85 1)">BSA</text>
<line x1="139.8" y1="376.5" x2="212" y2="376.5" stroke="#262626" stroke-width="1.25"/>
<line x1="155.2" y1="312.3" x2="175.7" y2="312.3" stroke="#383838" stroke-width="1.25"/>
<rect x="162.95" y="308.40" width="1.7" height="1.7" rx="0.35" fill="#2a2a2a"/>
<rect x="166.25" y="308.40" width="1.7" height="1.7" rx="0.35" fill="#2a2a2a"/>
<line x1="177.6" y1="312.3" x2="198.1" y2="312.3" stroke="#383838" stroke-width="1.25"/>
<rect x="185.35" y="308.40" width="1.7" height="1.7" rx="0.35" fill="#2a2a2a"/>
<rect x="188.65" y="308.40" width="1.7" height="1.7" rx="0.35" fill="#2a2a2a"/>
<text x="142.8" y="289.5" font-size="8.2" text-anchor="start" fill="#1e1e1e" textLength="66.6" lengthAdjust="spacingAndGlyphs" stroke="#1e1e1e" stroke-width="0.18">PlGF and VWF HBD</text>
<line x1="244.7" y1="304.90000000000003" x2="244.7" y2="377.1" stroke="#383838" stroke-width="1.45"/>
<line x1="241.5" y1="376.5" x2="244.7" y2="376.5" stroke="#333" stroke-width="1.2"/>
<text x="238.70" y="378.80" font-size="6.4" text-anchor="end" fill="#333" textLength="8.10" lengthAdjust="spacingAndGlyphs" >0.0</text>
<line x1="241.5" y1="359.325" x2="244.7" y2="359.325" stroke="#333" stroke-width="1.2"/>
<text x="238.70" y="361.62" font-size="6.4" text-anchor="end" fill="#333" textLength="8.10" lengthAdjust="spacingAndGlyphs" >0.5</text>
<line x1="241.5" y1="342.15" x2="244.7" y2="342.15" stroke="#333" stroke-width="1.2"/>
<text x="238.70" y="344.45" font-size="6.4" text-anchor="end" fill="#333" textLength="8.10" lengthAdjust="spacingAndGlyphs" >1.0</text>
<line x1="241.5" y1="324.975" x2="244.7" y2="324.975" stroke="#333" stroke-width="1.2"/>
<text x="238.70" y="327.28" font-size="6.4" text-anchor="end" fill="#333" textLength="8.10" lengthAdjust="spacingAndGlyphs" >1.5</text>
<line x1="241.5" y1="307.8" x2="244.7" y2="307.8" stroke="#333" stroke-width="1.2"/>
<text x="238.70" y="310.10" font-size="6.4" text-anchor="end" fill="#333" textLength="8.10" lengthAdjust="spacingAndGlyphs" >2.0</text>
<text x="0" y="0" font-size="8.4" fill="#222" stroke="#222" stroke-width="0.12" text-anchor="middle" transform="translate(225.2 338.70) rotate(-90)" textLength="32.3" lengthAdjust="spacingAndGlyphs">A450 nm</text>
<rect x="254.60" y="330.10" width="13.70" height="46.40" fill="#a1394a" stroke="#8c2136" stroke-width="1"/>
<line x1="261.45" y1="314.8" x2="261.45" y2="329.6" stroke="#353535" stroke-width="1.1"/>
<line x1="257.84999999999997" y1="314.8" x2="265.05" y2="314.8" stroke="#333" stroke-width="1.3"/>
<line x1="261.45" y1="376.5" x2="261.45" y2="379.5" stroke="#333" stroke-width="1.1"/>
<text x="0" y="0" font-size="6.5" fill="#1a1a1a" stroke="#1a1a1a" stroke-width="0.08" text-anchor="end" transform="translate(265.05 384.50) rotate(-45) scale(0.85 1)">PDGF-BB</text>
<rect x="276.50" y="370.50" width="14.00" height="6.00" fill="#a1394a" stroke="#8c2136" stroke-width="1"/>
<line x1="283.5" y1="368.2" x2="283.5" y2="370" stroke="#353535" stroke-width="1.1"/>
<line x1="279.9" y1="368.2" x2="287.1" y2="368.2" stroke="#333" stroke-width="1.3"/>
<line x1="283.5" y1="376.5" x2="283.5" y2="379.5" stroke="#333" stroke-width="1.1"/>
<text x="0" y="0" font-size="6.5" fill="#1a1a1a" stroke="#1a1a1a" stroke-width="0.08" text-anchor="end" transform="translate(287.90 384.50) rotate(-45) scale(0.85 1)">BSA</text>
<line x1="244.0" y1="376.5" x2="299.4" y2="376.5" stroke="#262626" stroke-width="1.25"/>
<line x1="261.9" y1="312.5" x2="282.8" y2="312.5" stroke="#383838" stroke-width="1.25"/>
<rect x="271.50" y="308.60" width="1.7" height="1.7" rx="0.35" fill="#2a2a2a"/>
<text x="248.7" y="289" font-size="8.2" text-anchor="start" fill="#1e1e1e" textLength="46.5" lengthAdjust="spacingAndGlyphs" stroke="#1e1e1e" stroke-width="0.18">PDGF-BB and</text>
<text x="255.6" y="299" font-size="8.2" text-anchor="start" fill="#1e1e1e" textLength="32.6" lengthAdjust="spacingAndGlyphs" stroke="#1e1e1e" stroke-width="0.18">VWF HBD</text>
<line x1="337.3" y1="304.90000000000003" x2="337.3" y2="377.1" stroke="#383838" stroke-width="1.45"/>
<line x1="334.1" y1="376.5" x2="337.3" y2="376.5" stroke="#333" stroke-width="1.2"/>
<text x="331.30" y="378.80" font-size="6.4" text-anchor="end" fill="#333" textLength="8.10" lengthAdjust="spacingAndGlyphs" >0.0</text>
<line x1="334.1" y1="362.76" x2="337.3" y2="362.76" stroke="#333" stroke-width="1.2"/>
<text x="331.30" y="365.06" font-size="6.4" text-anchor="end" fill="#333" textLength="8.10" lengthAdjust="spacingAndGlyphs" >0.5</text>
<line x1="334.1" y1="349.02" x2="337.3" y2="349.02" stroke="#333" stroke-width="1.2"/>
<text x="331.30" y="351.32" font-size="6.4" text-anchor="end" fill="#333" textLength="8.10" lengthAdjust="spacingAndGlyphs" >1.0</text>
<line x1="334.1" y1="335.28000000000003" x2="337.3" y2="335.28000000000003" stroke="#333" stroke-width="1.2"/>
<text x="331.30" y="337.58" font-size="6.4" text-anchor="end" fill="#333" textLength="8.10" lengthAdjust="spacingAndGlyphs" >1.5</text>
<line x1="334.1" y1="321.54" x2="337.3" y2="321.54" stroke="#333" stroke-width="1.2"/>
<text x="331.30" y="323.84" font-size="6.4" text-anchor="end" fill="#333" textLength="8.10" lengthAdjust="spacingAndGlyphs" >2.0</text>
<line x1="334.1" y1="307.8" x2="337.3" y2="307.8" stroke="#333" stroke-width="1.2"/>
<text x="331.30" y="310.10" font-size="6.4" text-anchor="end" fill="#333" textLength="8.10" lengthAdjust="spacingAndGlyphs" >2.5</text>
<text x="0" y="0" font-size="8.4" fill="#222" stroke="#222" stroke-width="0.12" text-anchor="middle" transform="translate(318.2 338.70) rotate(-90)" textLength="32.3" lengthAdjust="spacingAndGlyphs">A450 nm</text>
<rect x="345.10" y="337.60" width="13.40" height="38.90" fill="#a1394a" stroke="#8c2136" stroke-width="1"/>
<line x1="351.8" y1="322.5" x2="351.8" y2="337.1" stroke="#353535" stroke-width="1.1"/>
<line x1="348.2" y1="322.5" x2="355.40000000000003" y2="322.5" stroke="#333" stroke-width="1.3"/>
<line x1="351.8" y1="376.5" x2="351.8" y2="379.5" stroke="#333" stroke-width="1.1"/>
<text x="0" y="0" font-size="6.5" fill="#1a1a1a" stroke="#1a1a1a" stroke-width="0.08" text-anchor="end" transform="translate(355.40 384.50) rotate(-45) scale(0.85 1)">FGF-2</text>
<rect x="367.00" y="373.60" width="13.50" height="2.90" fill="#a1394a" stroke="#8c2136" stroke-width="1"/>
<line x1="373.75" y1="371.3" x2="373.75" y2="373.1" stroke="#353535" stroke-width="1.1"/>
<line x1="370.15" y1="371.3" x2="377.35" y2="371.3" stroke="#333" stroke-width="1.3"/>
<line x1="373.75" y1="376.5" x2="373.75" y2="379.5" stroke="#333" stroke-width="1.1"/>
<text x="0" y="0" font-size="6.5" fill="#1a1a1a" stroke="#1a1a1a" stroke-width="0.08" text-anchor="end" transform="translate(378.15 384.50) rotate(-45) scale(0.85 1)">BSA</text>
<line x1="336.6" y1="376.5" x2="388.7" y2="376.5" stroke="#262626" stroke-width="1.25"/>
<line x1="351.5" y1="315" x2="372.3" y2="315" stroke="#383838" stroke-width="1.25"/>
<rect x="361.05" y="311.10" width="1.7" height="1.7" rx="0.35" fill="#2a2a2a"/>
<text x="327.3" y="289.5" font-size="8.2" text-anchor="start" fill="#1e1e1e" textLength="71.4" lengthAdjust="spacingAndGlyphs" stroke="#1e1e1e" stroke-width="0.18">FGF-2 and VWF HBD</text>
<line x1="431.1" y1="304.8" x2="431.1" y2="377.1" stroke="#383838" stroke-width="1.45"/>
<line x1="427.90000000000003" y1="376.5" x2="431.1" y2="376.5" stroke="#333" stroke-width="1.2"/>
<text x="425.10" y="378.80" font-size="6.4" text-anchor="end" fill="#333" textLength="8.10" lengthAdjust="spacingAndGlyphs" >0.0</text>
<line x1="427.90000000000003" y1="353.56666666666666" x2="431.1" y2="353.56666666666666" stroke="#333" stroke-width="1.2"/>
<text x="425.10" y="355.87" font-size="6.4" text-anchor="end" fill="#333" textLength="8.10" lengthAdjust="spacingAndGlyphs" >0.2</text>
<line x1="427.90000000000003" y1="330.6333333333333" x2="431.1" y2="330.6333333333333" stroke="#333" stroke-width="1.2"/>
<text x="425.10" y="332.93" font-size="6.4" text-anchor="end" fill="#333" textLength="8.10" lengthAdjust="spacingAndGlyphs" >0.4</text>
<line x1="427.90000000000003" y1="307.7" x2="431.1" y2="307.7" stroke="#333" stroke-width="1.2"/>
<text x="425.10" y="310.00" font-size="6.4" text-anchor="end" fill="#333" textLength="8.10" lengthAdjust="spacingAndGlyphs" >0.6</text>
<text x="0" y="0" font-size="8.4" fill="#222" stroke="#222" stroke-width="0.12" text-anchor="middle" transform="translate(411.6 338.70) rotate(-90)" textLength="32.3" lengthAdjust="spacingAndGlyphs">A450 nm</text>
<rect x="438.90" y="342.90" width="13.60" height="33.60" fill="#a1394a" stroke="#8c2136" stroke-width="1"/>
<line x1="445.7" y1="336.6" x2="445.7" y2="342.4" stroke="#353535" stroke-width="1.1"/>
<line x1="442.09999999999997" y1="336.6" x2="449.3" y2="336.6" stroke="#333" stroke-width="1.3"/>
<line x1="445.7" y1="376.5" x2="445.7" y2="379.5" stroke="#333" stroke-width="1.1"/>
<text x="0" y="0" font-size="6.5" fill="#1a1a1a" stroke="#1a1a1a" stroke-width="0.08" text-anchor="end" transform="translate(447.70 384.20) rotate(-45) scale(0.85 1)">CXCL-12α</text>
<rect x="460.80" y="318.70" width="13.50" height="57.80" fill="#a1394a" stroke="#8c2136" stroke-width="1"/>
<line x1="467.55" y1="313.2" x2="467.55" y2="318.2" stroke="#353535" stroke-width="1.1"/>
<line x1="463.95" y1="313.2" x2="471.15000000000003" y2="313.2" stroke="#333" stroke-width="1.3"/>
<line x1="467.55" y1="376.5" x2="467.55" y2="379.5" stroke="#333" stroke-width="1.1"/>
<text x="0" y="0" font-size="6.5" fill="#1a1a1a" stroke="#1a1a1a" stroke-width="0.08" text-anchor="end" transform="translate(469.55 384.20) rotate(-45) scale(0.85 1)">CXCL-12γ</text>
<rect x="482.10" y="365.80" width="13.80" height="10.70" fill="#a1394a" stroke="#8c2136" stroke-width="1"/>
<line x1="489.0" y1="362.6" x2="489.0" y2="365.3" stroke="#353535" stroke-width="1.1"/>
<line x1="485.4" y1="362.6" x2="492.6" y2="362.6" stroke="#333" stroke-width="1.3"/>
<line x1="489.0" y1="376.5" x2="489.0" y2="379.5" stroke="#333" stroke-width="1.1"/>
<text x="0" y="0" font-size="6.5" fill="#1a1a1a" stroke="#1a1a1a" stroke-width="0.08" text-anchor="end" transform="translate(493.40 384.50) rotate(-45) scale(0.85 1)">BSA</text>
<line x1="430.40000000000003" y1="376.5" x2="503" y2="376.5" stroke="#262626" stroke-width="1.25"/>
<line x1="445.9" y1="308.1" x2="466.7" y2="308.1" stroke="#383838" stroke-width="1.25"/>
<rect x="453.80" y="304.20" width="1.7" height="1.7" rx="0.35" fill="#2a2a2a"/>
<rect x="457.10" y="304.20" width="1.7" height="1.7" rx="0.35" fill="#2a2a2a"/>
<line x1="468.1" y1="308.1" x2="488.9" y2="308.1" stroke="#383838" stroke-width="1.25"/>
<rect x="476.00" y="304.20" width="1.7" height="1.7" rx="0.35" fill="#2a2a2a"/>
<rect x="479.30" y="304.20" width="1.7" height="1.7" rx="0.35" fill="#2a2a2a"/>
<text x="426.9" y="289.5" font-size="8.2" text-anchor="start" fill="#1e1e1e" textLength="80" lengthAdjust="spacingAndGlyphs" stroke="#1e1e1e" stroke-width="0.18">CXCL-12 and VWF HBD</text>
<rect x="0" y="0" width="520" height="1" fill="#474747"/>
<rect x="0" y="1" width="520" height="1" fill="#b8b8b8"/>
<rect x="0" y="416" width="520" height="1" fill="#444"/>
<rect x="0" y="415" width="520" height="1" fill="#9a9a9a"/>
<rect x="519" y="0" width="1" height="417" fill="#474747"/>
<rect x="518" y="0" width="1" height="417" fill="#909090"/>
<rect x="0" y="0" width="1" height="417" fill="#0a0a0a"/>
<rect x="1" y="0" width="1" height="417" fill="#d0d0d0"/>
</svg>
</body></html>
